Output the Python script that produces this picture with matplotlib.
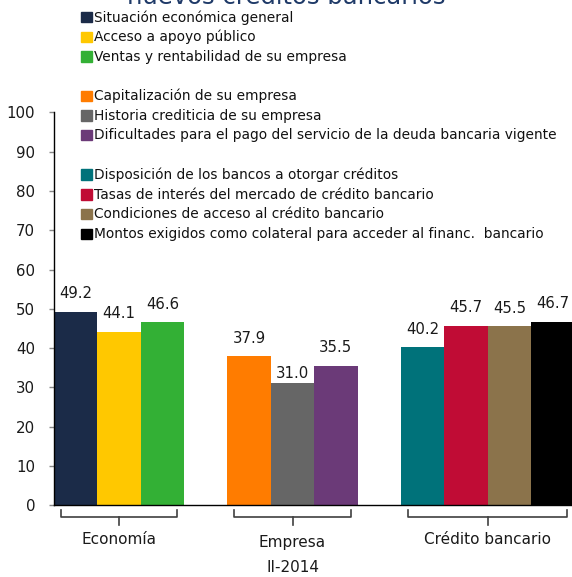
import matplotlib
matplotlib.use("Agg")
import matplotlib.pyplot as plt
from matplotlib.patches import Rectangle
from matplotlib.lines import Line2D

plt.rcParams['font.family'] = ['DejaVu Sans']

# ---------------- data ----------------
title = "Factores que limitan la obtención de nuevos créditos bancarios"
period = "II-2014"
groups = ["Economía", "Empresa", "Crédito bancario"]
economia_labels = ["Situación económica general", "Acceso a apoyo público",
                   "Ventas y rentabilidad de su empresa"]
economia_values = [49.2, 44.1, 46.6]
empresa_labels = ["Capitalización de su empresa", "Historia crediticia de su empresa",
                  "Dificultades para el pago del servicio de la deuda bancaria vigente"]
empresa_values = [37.9, 31.0, 35.5]
credito_labels = ["Disposición de los bancos a otorgar créditos",
                  "Tasas de interés del mercado de crédito bancario",
                  "Condiciones de acceso al crédito bancario",
                  "Montos exigidos como colateral para acceder al financ.  bancario"]
credito_values = [40.2, 45.7, 45.5, 46.7]
yticks = [0, 10, 20, 30, 40, 50, 60, 70, 80, 90, 100]

# ---------------- style ----------------
economia_colors = ["#1B2B48", "#FFC800", "#33B035"]
empresa_colors = ["#FF7C00", "#666666", "#6B3A78"]
credito_colors = ["#00727A", "#C00C35", "#8B734B", "#000000"]

W, H = 572, 577
fig = plt.figure(figsize=(W / 100, H / 100), dpi=100)


def fx(px):
    return px / W


def fy(py):
    return 1 - py / H


ax_left, ax_right, ax_top, ax_bot = 54, 574.4, 112.3, 505.3
ax = fig.add_axes([fx(ax_left), fy(ax_bot), fx(ax_right - ax_left), (ax_bot - ax_top) / H])

group_values = [economia_values, empresa_values, credito_values]
group_labels = [economia_labels, empresa_labels, credito_labels]
group_colors = [economia_colors, empresa_colors, credito_colors]

# slot positions: one empty slot between groups
pos = 0
group_spans = []
bars = []
for vals, cols, labs in zip(group_values, group_colors, group_labels):
    start = pos
    for v, c, l in zip(vals, cols, labs):
        ax.bar(pos, v, width=1.0, color=c, label=l, zorder=2)
        bars.append((pos, v, l))
        pos += 1
    group_spans.append((start, pos - 1))
    pos += 1

ax.set_xlim(-0.5, pos - 1.5)
ax.set_ylim(0, 100)
ax.set_yticks(yticks)
ax.set_yticklabels([str(t) for t in yticks], fontsize=10.8, color="#1a1a1a")
ax.tick_params(axis='y', direction='out', length=3.6, width=1.0, color="#888888", pad=10)
ax.set_xticks([])
for s in ["top", "right"]:
    ax.spines[s].set_visible(False)
ax.spines["left"].set_color("black")
ax.spines["bottom"].set_color("black")
ax.spines["left"].set_linewidth(1.0)
ax.spines["bottom"].set_linewidth(1.0)
ax.patch.set_alpha(0)

# value labels
for (x, v, l) in bars:
    off = 7 if abs(v - 31.0) < 1e-9 else 13
    ax.annotate(f"{v:.1f}", (x, v), xytext=(0, off), textcoords="offset points",
                ha="center", va="center", fontsize=10.7, color="#1a1a1a",
                annotation_clip=False)

# group brackets
px_per_unit = (ax_bot - ax_top) / 100.0


def ydata(py):
    return (ax_bot - py) / px_per_unit


inset = 0.16
by, btop, bbot = ydata(517), ydata(510), ydata(525)
for (s, e) in group_spans:
    x0, x1 = s - 0.5 + inset, e + 0.5 - inset
    xc = (s + e) / 2.0
    for xs, ys in [([x0, x0, x1, x1], [btop, by, by, btop]), ([xc, xc], [by, bbot])]:
        ax.add_line(Line2D(xs, ys, color="#404040", lw=1.2, clip_on=False))

label_y = [539, 542, 539]
for (s, e), g, ly in zip(group_spans, groups, label_y):
    xc = (s + e) / 2.0
    ax.text(xc, ydata(ly), g, ha="center", va="center", fontsize=11, color="#1a1a1a",
            clip_on=False)
s, e = group_spans[1]
ax.text((s + e) / 2.0, ydata(568), period, ha="center", va="center", fontsize=11,
        color="#1a1a1a", clip_on=False)

# title (partially cut at top in the reference)
fig.text(0.5, fy(4.5), "nuevos créditos bancarios", ha="center", va="baseline",
         fontsize=17.5, color="#1F3A68")

# manual legend
all_labels = economia_labels + empresa_labels + credito_labels
all_colors = economia_colors + empresa_colors + credito_colors
rows = [0, 1, 2, 4, 5, 6, 8, 9, 10, 11]
for r, lab, col in zip(rows, all_labels, all_colors):
    yc = 17.3 + 19.7 * r
    fig.patches.append(Rectangle((fx(81), fy(yc + 5)), fx(10.5), 10.5 / H, color=col,
                                 transform=fig.transFigure, figure=fig))
    fig.text(fx(94), fy(yc), lab, ha="left", va="center", fontsize=9.9, color="#111111")

fig.savefig("out.png", dpi=100)
